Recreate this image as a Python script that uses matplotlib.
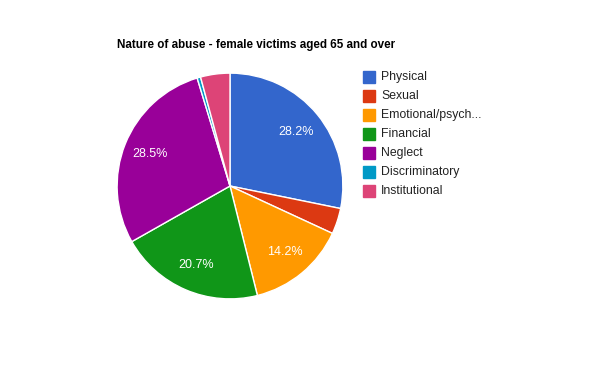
import matplotlib
matplotlib.use('Agg')
import matplotlib.pyplot as plt
from matplotlib.patches import Rectangle

plt.rcParams['font.family'] = ['Liberation Sans', 'DejaVu Sans']

# data (percent of cases)
categories = ['Physical', 'Sexual', 'Emotional/psych...', 'Financial',
              'Neglect', 'Discriminatory', 'Institutional']
shares = [28.2, 3.7, 14.2, 20.7, 28.5, 0.5, 4.2]
colours = ['#3366cc', '#dc3912', '#ff9900', '#109618',
           '#990099', '#0099c6', '#dd4477']
title = 'Nature of abuse - female victims aged 65 and over'

W, H = 600, 371
fig = plt.figure(figsize=(W / 100, H / 100), dpi=100)

# pie box: centre (230, 186), radius 114 px
cx, cy, r = 230, 186, 114
ax = fig.add_axes([(cx - r) / W, (H - cy - r) / H, 2 * r / W, 2 * r / H])

def pct(v):
    return '%.1f%%' % v if v >= 5 else ''

wedges, _, autotexts = ax.pie(shares, colors=colours, startangle=90,
                              counterclock=False, radius=1,
                              autopct=pct, pctdistance=0.76,
                              wedgeprops=dict(edgecolor='white', linewidth=1))
for t in autotexts:
    t.set_color('white')
    t.set_fontsize(9)
ax.set_xlim(-1.01, 1.01)
ax.set_ylim(-1.01, 1.01)
ax.axis('off')

fig.text(117 / W, 1 - 45 / H, title, fontsize=8.4, fontweight='bold',
         va='center', ha='left')

# legend
for i, (lab, col) in enumerate(zip(categories, colours)):
    y = 77 + 19 * i
    fig.add_artist(Rectangle((363 / W, 1 - (y + 6) / H), 12 / W, 12 / H,
                             transform=fig.transFigure, color=col))
    fig.text(381 / W, 1 - y / H, lab, fontsize=8.8, color='#222222',
             va='center', ha='left')

fig.savefig('out.png', dpi=100)
